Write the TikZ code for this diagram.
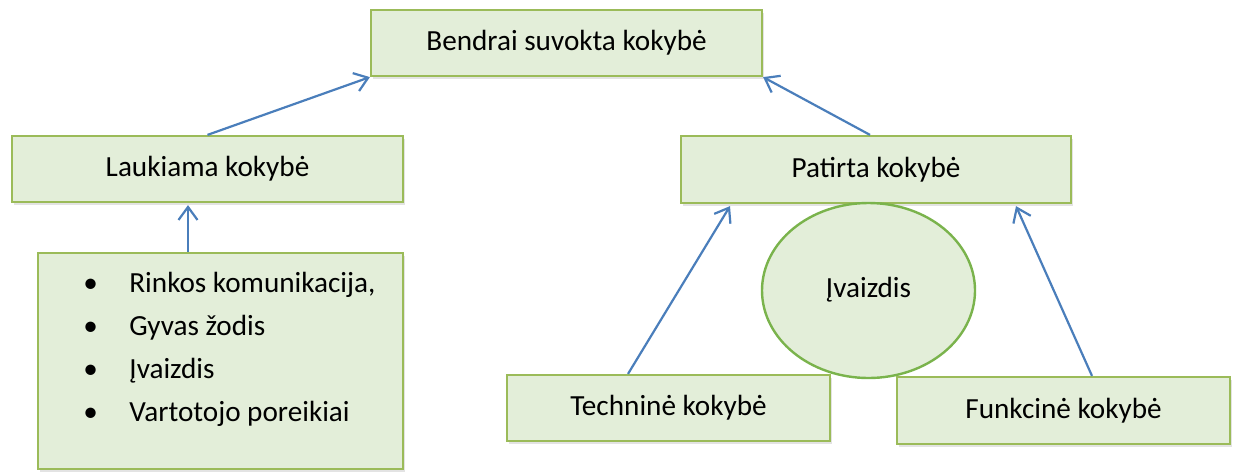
\documentclass[tikz,border=0pt]{standalone}
\usepackage{fontspec}
\setmainfont{Carlito}
\usepackage{tikz}
\usetikzlibrary{arrows.meta,shapes.geometric,shadows}
\definecolor{boxfill}{HTML}{E3EED9}
\definecolor{boxline}{HTML}{9BBB59}
\definecolor{ovalline}{HTML}{7AB34C}
\definecolor{arrblue}{HTML}{4A7EBB}
\tikzset{
  qualbox/.style={rectangle,draw=boxline,fill=boxfill,line width=1.1pt,inner sep=0pt,
    font=\fontsize{14.6}{17.5}\selectfont,
    drop shadow={shadow xshift=1.2pt,shadow yshift=-1.6pt,opacity=0.22}},
  imgoval/.style={ellipse,draw=ovalline,fill=boxfill,line width=1.2pt,inner sep=0pt,
    font=\fontsize{14.6}{17.5}\selectfont},
  listtext/.style={align=left,inner sep=0pt,font=\fontsize{14.6}{21.5}\selectfont},
  upedge/.style={-{Straight Barb[length=6.5pt,width=9.5pt,line width=1.1pt]},draw=arrblue,line width=1.1pt},
}

\begin{document}
\begin{tikzpicture}[x=0.5pt,y=-0.5pt]
  \useasboundingbox (0,0) rectangle (1235,472);
  % boxes
  \node[qualbox,minimum width=195.5pt,minimum height=33pt] (nbendr) at (566.5,43) {Bendrai suvokta kokybė};
  \node[qualbox,minimum width=195.5pt,minimum height=33pt] (nlauk) at (207.5,169) {Laukiama kokybė};
  \node[qualbox,minimum width=195pt,minimum height=33.5pt] (npat) at (876,169.5) {Patirta kokybė};
  \node[qualbox,minimum width=182.5pt,minimum height=108pt] (nsalt) at (220.5,361) {};
  \node[listtext,anchor=west] (nlist) at (83,349) {%
    \makebox[23pt][l]{•}Rinkos komunikacija,\\
    \makebox[23pt][l]{•}Gyvas žodis\\
    \makebox[23pt][l]{•}Įvaizdis\\
    \makebox[23pt][l]{•}Vartotojo poreikiai};
  \node[imgoval,minimum width=106.5pt,minimum height=87.5pt] (nivz) at (868.5,290.5) {\raisebox{3pt}{Įvaizdis}};
  \node[qualbox,minimum width=161.5pt,minimum height=33pt] (ntech) at (668.5,408) {Techninė kokybė};
  \node[qualbox,minimum width=166.5pt,minimum height=33.5pt] (nfunk) at (1063.5,410.5) {Funkcinė kokybė};
  % arrows
  \coordinate (cvert) at (188,0);
  \draw[upedge] (nlauk.north) -- (nbendr.south west);
  \draw[upedge] ([xshift=-3pt]npat.north) -- (nbendr.south east);
  \draw[upedge] (nsalt.north -| cvert) -- ([yshift=-1pt]nlauk.south -| cvert);
  \draw[upedge] ([xshift=-20.25pt]ntech.north) -- ([xshift=-73pt,yshift=-1pt]npat.south);
  \draw[upedge] ([xshift=14.25pt]nfunk.north) -- ([xshift=70pt,yshift=-1pt]npat.south);
\end{tikzpicture}
\end{document}
